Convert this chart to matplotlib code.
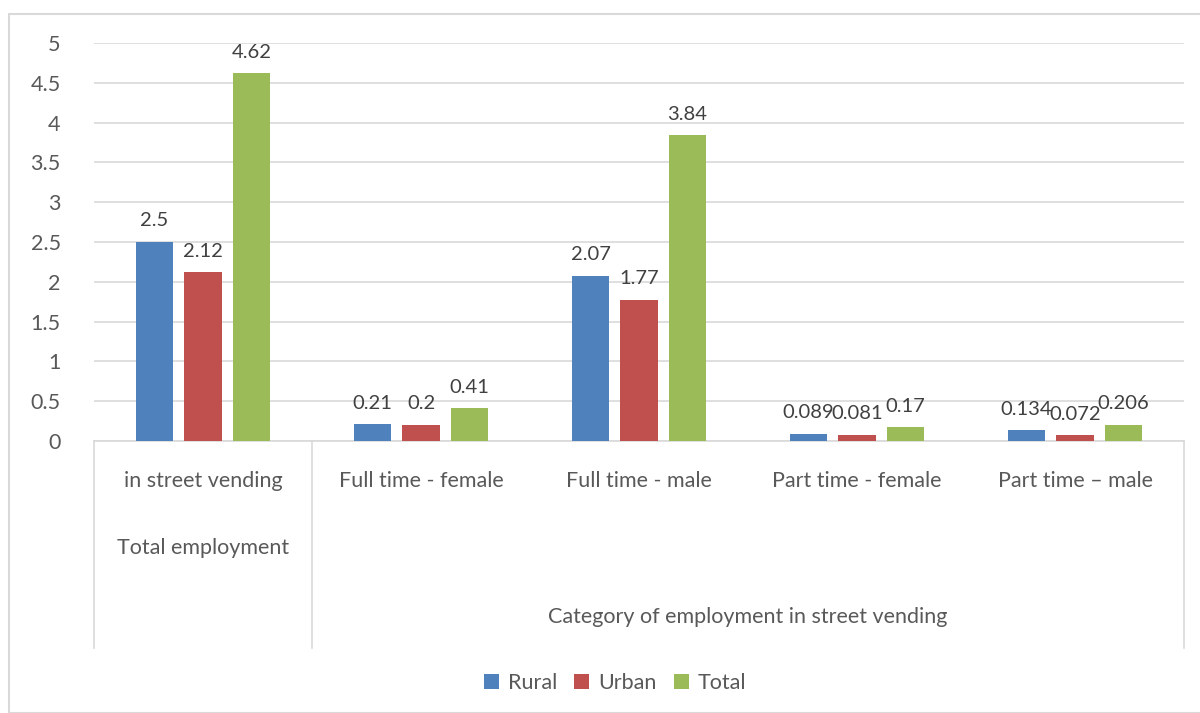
import numpy as np
import matplotlib.pyplot as plt
from matplotlib.patches import Rectangle

# DATA
categories = ["in street vending", "Full time - female", "Full time - male",
              "Part time - female", "Part time \u2013 male"]
rural = [2.5, 0.21, 2.07, 0.089, 0.134]
urban = [2.12, 0.2, 1.77, 0.081, 0.072]
total = [4.62, 0.41, 3.84, 0.17, 0.206]
series_names = ["Rural", "Urban", "Total"]
colors = ["#4f81bd", "#c0504d", "#9bbb59"]
y_ticks = [0, 0.5, 1, 1.5, 2, 2.5, 3, 3.5, 4, 4.5, 5]

plt.rcParams['font.family'] = ['Lato', 'DejaVu Sans']
text_color = "#595959"
grid_color = "#d9d9d9"
fs = 15.5

W, H = 1200, 713
fig = plt.figure(figsize=(W / 100, H / 100), dpi=100)

# outer chart border
fig.patches.append(Rectangle((9 / W, 0), 1.2, 1 - 14 / H, transform=fig.transFigure,
                             fill=False, edgecolor=grid_color, linewidth=1.5))

left, right = 94 / W, 1184 / W
bottom, top = 1 - 441 / H, 1 - 43 / H
ax = fig.add_axes([left, bottom, right - left, top - bottom])

x = np.arange(len(categories))
bar_w = 0.17
step = 0.222
for i, (vals, name, c) in enumerate(zip([rural, urban, total], series_names, colors)):
    pos = x + (i - 1) * step
    ax.bar(pos, vals, width=bar_w, color=c, label=name, zorder=3)
    for xb, v in zip(pos, vals):
        ax.text(xb, v + 0.16, f"{v:g}", ha="center", va="bottom",
                fontsize=14.5, color="#404040")

ax.set_xlim(-0.5, len(categories) - 0.5)
ax.set_ylim(0, 5)
ax.set_yticks(y_ticks)
ax.set_yticklabels([f"{t:g}" for t in y_ticks])
ax.tick_params(axis="y", length=0, pad=24, labelsize=fs, labelcolor=text_color)
ax.tick_params(axis="x", length=0, bottom=False, labelbottom=False)
ax.grid(axis="y", color=grid_color, linewidth=1.2, zorder=0)
for s in ["top", "right", "left"]:
    ax.spines[s].set_visible(False)
ax.spines["bottom"].set_color(grid_color)
ax.spines["bottom"].set_linewidth(1.2)

# multi-level category axis
trans = ax.get_xaxis_transform()
y_line = -(648 - 441) / (441 - 43)
for xb in [-0.5, 0.5, len(categories) - 0.5]:
    ax.plot([xb, xb], [0, y_line], transform=trans, color=grid_color,
            linewidth=1.2, clip_on=False)

y_lab1 = -(481 - 441) / (441 - 43)
for xi, lab in zip(x, categories):
    ax.text(xi, y_lab1, lab, transform=trans, ha="center", va="center",
            fontsize=fs, color=text_color)

y_lab2 = -(548 - 441) / (441 - 43)
ax.text(0, y_lab2, "Total employment", transform=trans, ha="center", va="center",
        fontsize=fs, color=text_color)
y_lab3 = -(617 - 441) / (441 - 43)
ax.text(2.5, y_lab3, "Category of employment in street vending", transform=trans,
        ha="center", va="center", fontsize=fs, color=text_color)

leg = fig.legend(loc="center", bbox_to_anchor=(615 / W, 1 - 683 / H), ncol=3,
                 frameon=False, fontsize=fs, handlelength=0.7, handleheight=0.7,
                 handletextpad=0.4, columnspacing=0.8)
for t in leg.get_texts():
    t.set_color(text_color)

plt.savefig("out.png", dpi=100)
